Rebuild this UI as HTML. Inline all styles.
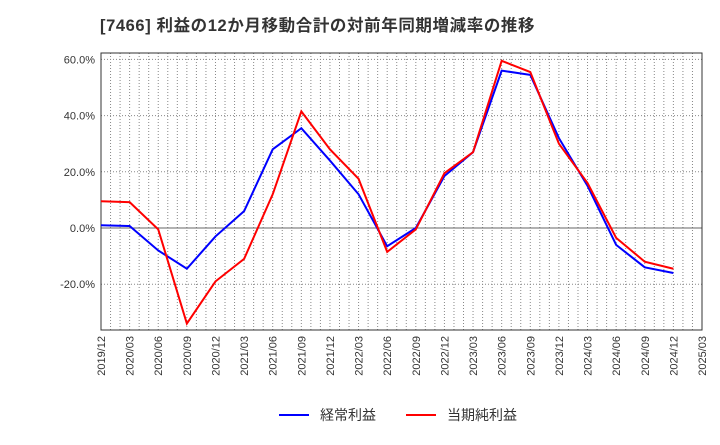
<!DOCTYPE html>
<html><head><meta charset="utf-8"><style>
body{margin:0;background:#fff;width:720px;height:440px;overflow:hidden;font-family:"Liberation Sans","Noto Sans CJK JP",sans-serif}
</style></head><body>
<svg id="c" width="720" height="440" xmlns="http://www.w3.org/2000/svg">
<text x="100" y="31" font-size="16.5" letter-spacing="0.6" font-weight="bold" fill="#333">[7466]  利益の12か月移動合計の対前年同期増減率の推移</text>
<g id="grid"></g><g id="axes"></g><g id="series"></g>
<g>
<line x1="279" y1="415" x2="309" y2="415" stroke="#0000ff" stroke-width="2"/>
<text x="320" y="420" font-size="14" fill="#333">経常利益</text>
<line x1="406" y1="415" x2="436" y2="415" stroke="#ff0000" stroke-width="2"/>
<text x="447" y="420" font-size="14" fill="#333">当期純利益</text>
</g>
</svg>
<script>
const xLabels=["2019/12","2020/03","2020/06","2020/09","2020/12","2021/03","2021/06","2021/09","2021/12","2022/03","2022/06","2022/09","2022/12","2023/03","2023/06","2023/09","2023/12","2024/03","2024/06","2024/09","2024/12","2025/03"];
const yTicks=[-20,0,20,40,60];
const keijo=[1.0,0.7,-8,-14.5,-3,6,28,35.5,24,12,-6.5,0,18.5,27,56,54.5,32,15,-6,-14,-16];
const junri=[9.5,9.2,-0.5,-34,-19,-11,12,41.5,28,17.5,-8.5,-0.5,19.5,27,59.5,55.5,30,16,-3.5,-12,-14.5];
const L=101,R=702,T=53,B=330;
const xs=i=>L+(R-L)*i/21;
const ys=v=>228-v*2.81;
const NS="http://www.w3.org/2000/svg";
function mk(t,a,p){const e=document.createElementNS(NS,t);for(const k in a)e.setAttribute(k,a[k]);p.appendChild(e);return e;}
const g=document.getElementById('grid'),ax=document.getElementById('axes'),s=document.getElementById('series');
for(let m=1;m<63;m++){const x=L+(R-L)*m/63;const l=mk('line',{x1:x,y1:T,x2:x,y2:B,stroke:'#888','stroke-width':1,'stroke-dasharray':'1,2'},g);

}
yTicks.forEach(v=>{const y=ys(v);const l=mk('line',{x1:L,y1:y,x2:R,y2:y,stroke:v===0?'#666':'#888','stroke-width':1,'stroke-dasharray':v===0?'':'1,2'},g);


const t=mk('text',{x:L-6,y:y+4,'font-size':11,fill:'#333','text-anchor':'end'},ax);t.textContent=v.toFixed(1)+'%';

});
const fr=mk('rect',{x:L,y:T,width:R-L,height:B-T,fill:'none',stroke:'#333','stroke-width':1},ax);


xLabels.forEach((lb,i)=>{const x=xs(i);const t=mk('text',{x:x+4,y:B+6,'font-size':11,fill:'#333','text-anchor':'end',transform:`rotate(-90 ${x+4} ${B+6})`},ax);t.textContent=lb;

});
function line(d,c,n){const p=mk('polyline',{points:d.map((v,i)=>xs(i)+','+ys(v)).join(' '),fill:'none',stroke:c,'stroke-width':2},s);

}
line(keijo,'#0000ff','series-keijo');
line(junri,'#ff0000','series-junri');
</script>
</body></html>
